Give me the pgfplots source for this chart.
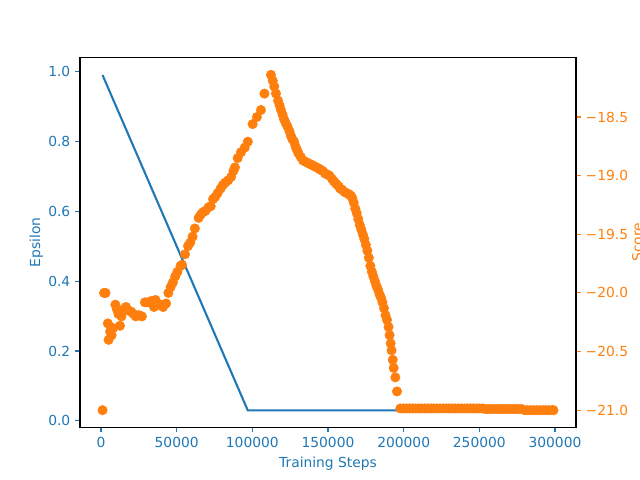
\documentclass[border=0pt]{standalone}
\usepackage{pgfplots}
\pgfplotsset{compat=1.18}
\usepackage{fontspec}
\setmainfont{DejaVu Sans}
\definecolor{c0}{HTML}{1F77B4}
\definecolor{c1}{HTML}{FF7F0E}
\pgfplotstableread{
x y
1000 -21.0
2000 -20.0
3000 -20.0
4500 -20.26
5000 -20.40
6000 -20.33
7000 -20.36
8000 -20.30
9500 -20.10
10500 -20.14
11500 -20.18
12500 -20.28
13500 -20.20
15000 -20.14
16500 -20.12
18000 -20.15
20000 -20.16
21500 -20.18
23000 -20.20
25000 -20.19
27000 -20.20
29000 -20.08
31000 -20.08
33000 -20.07
35000 -20.12
36000 -20.06
37500 -20.10
39000 -20.10
41000 -20.12
43000 -20.09
44500 -20.00
46000 -19.95
47500 -19.91
49000 -19.86
50500 -19.82
52500 -19.77
53500 -19.76
55500 -19.67
57500 -19.60
59000 -19.57
60500 -19.52
62000 -19.45
64500 -19.36
66000 -19.33
67500 -19.31
69000 -19.30
71000 -19.27
72500 -19.26
74000 -19.20
75500 -19.18
77000 -19.15
79000 -19.11
80500 -19.08
82000 -19.06
84000 -19.04
86000 -19.01
87500 -18.96
88500 -18.93
90300 -18.85
92500 -18.80
95000 -18.76
97000 -18.71
100200 -18.56
103000 -18.50
105700 -18.44
108000 -18.30
112300 -18.14
113500 -18.19
114500 -18.24
115600 -18.30
117000 -18.36
118000 -18.40
118900 -18.44
120000 -18.48
121000 -18.52
122000 -18.55
123200 -18.58
124500 -18.62
125500 -18.66
126500 -18.69
127600 -18.71
128500 -18.75
129500 -18.78
130500 -18.81
132000 -18.84
133500 -18.87
135000 -18.88
136500 -18.89
138000 -18.90
139500 -18.91
141000 -18.92
142500 -18.93
144000 -18.94
145200 -18.95
146500 -18.96
148000 -18.98
149500 -18.99
151000 -19.00
152800 -19.03
154000 -19.05
155500 -19.07
157000 -19.09
158000 -19.11
159400 -19.12
161000 -19.14
162500 -19.15
164000 -19.16
165000 -19.17
166000 -19.19
167000 -19.23
168000 -19.28
169000 -19.32
170000 -19.37
171000 -19.42
172000 -19.46
173000 -19.50
174000 -19.54
175000 -19.59
176000 -19.64
177000 -19.70
178000 -19.77
179000 -19.82
180000 -19.86
181000 -19.90
182000 -19.94
183000 -19.97
184000 -20.01
185000 -20.04
186000 -20.08
187000 -20.13
188000 -20.19
189000 -20.23
190000 -20.29
190700 -20.36
191400 -20.43
192000 -20.49
192800 -20.57
193400 -20.64
194500 -20.72
195600 -20.84
197800 -20.985
200000 -20.985
202000 -20.985
204000 -20.985
206000 -20.985
208000 -20.985
210000 -20.985
212000 -20.985
214000 -20.985
216000 -20.985
218000 -20.985
220000 -20.985
222000 -20.985
224000 -20.985
226000 -20.985
228000 -20.985
230000 -20.985
232000 -20.985
234000 -20.985
236000 -20.985
238000 -20.985
240000 -20.985
242000 -20.985
244000 -20.985
246000 -20.985
248000 -20.985
250000 -20.985
252000 -20.985
254000 -20.99
256000 -20.99
258000 -20.99
260000 -20.99
262000 -20.99
264000 -20.99
266000 -20.99
268000 -20.99
270000 -20.99
272000 -20.99
274000 -20.99
276000 -20.99
278000 -20.99
280000 -21.0
282000 -21.0
284000 -21.0
286000 -21.0
288000 -21.0
290000 -21.0
292000 -21.0
294000 -21.0
296000 -21.0
298000 -21.0
299000 -21.0
}\scoredata
\begin{document}
\begin{tikzpicture}
\pgfplotsset{
  base/.style={
    scale only axis, width=4.96in, height=3.696in,
    at={(0,0)}, anchor=south west,
    xmin=-13900, xmax=313900,
    tick align=outside, major tick length=3.5pt,
    every tick/.style={line width=0.8pt},
    axis line style={line width=0.8pt, black},
    font=\fontsize{10}{12}\selectfont,
    tick label style={font=\fontsize{10}{12}\selectfont},
    label style={font=\fontsize{10}{12}\selectfont},
    scaled x ticks=false, scaled y ticks=false,
  }
}
\begin{axis}[base,
  ymin=-0.018, ymax=1.04,
  xtick={0,50000,100000,150000,200000,250000,300000},
  xticklabels={0,50000,100000,150000,200000,250000,300000},
  ytick={0,0.2,0.4,0.6,0.8,1.0},
  yticklabels={0.0,0.2,0.4,0.6,0.8,1.0},
  xtick pos=bottom, ytick pos=left,
  x tick style={c0}, y tick style={c0},
  x tick label style={text=c0}, y tick label style={text=c0},
  xlabel={Training Steps}, ylabel={Epsilon},
  xlabel style={text=c0}, ylabel style={text=c0},
  ylabel shift=-3pt,
]
\addplot[c0, line width=1.5pt, mark=none] coordinates {(1000,0.99) (97000,0.03) (299000,0.03)};
\end{axis}
\begin{axis}[base,
  ymin=-21.145, ymax=-17.993,
  hide x axis, axis y line*=right,
  xtick=\empty,
  ytick={-21,-20.5,-20,-19.5,-19,-18.5},
  yticklabels={−21.0,−20.5,−20.0,−19.5,−19.0,−18.5},
  y tick style={c1}, y tick label style={text=c1},
  ylabel={Score}, ylabel style={text=c1},
  ylabel shift=-4pt,
]
\addplot[only marks, mark=*, mark size=3.4pt, c1, mark options={draw=none, fill=c1}] table[x=x,y=y] {\scoredata};
\end{axis}
\pgfresetboundingbox
\path[use as bounding box] (-0.8in,-0.528in) rectangle (5.6in,4.272in);
\end{tikzpicture}
\end{document}
